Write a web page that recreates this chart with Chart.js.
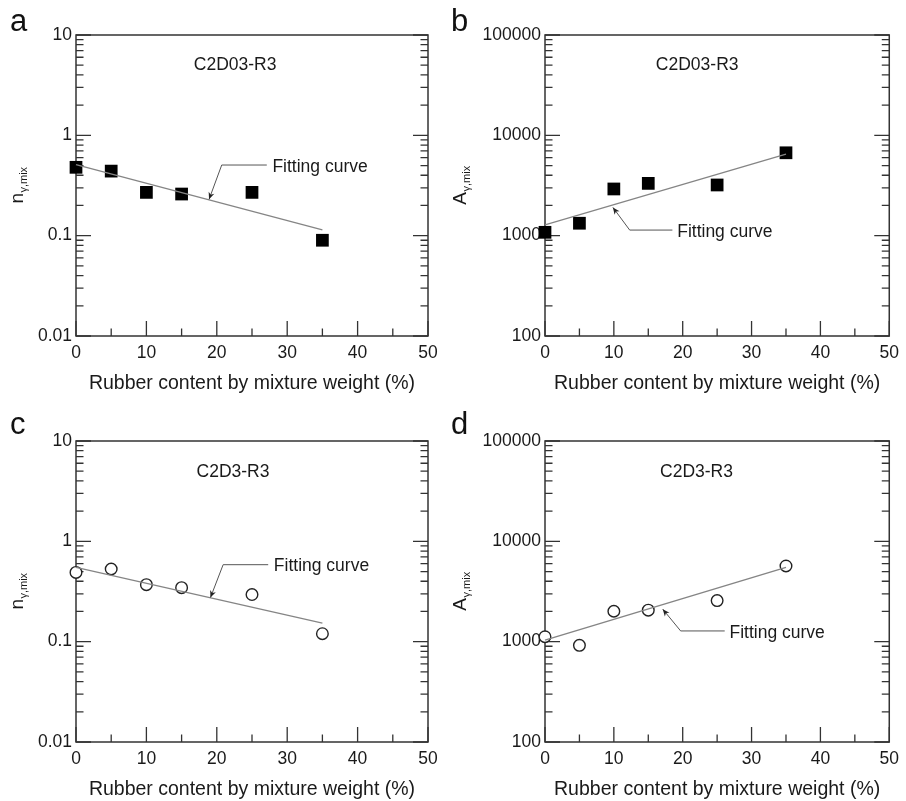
<!DOCTYPE html>
<html lang="en">
<head>
    <meta charset="UTF-8"/>
    <title>Rubber content vs n and A</title>
    <script src="https://cdn.jsdelivr.net/npm/chart.js"></script>
    <style>
        html, body {
            margin: 0;
            height: 100%;
            background: #fff;
            overflow: hidden;
        }

        .panel {
            position: absolute;
        }

        .letter {
            position: absolute;
            font: 31px "Liberation Sans", Arial, sans-serif;
            line-height: 31px;
            color: #111;
        }
    </style>
</head>
<body>
<div class="panel" style="left:0;top:0"><canvas id="chartA" width="453" height="395"></canvas></div>
<div class="panel" style="left:453px;top:0"><canvas id="chartB" width="453" height="395"></canvas></div>
<div class="panel" style="left:0;top:406px"><canvas id="chartC" width="453" height="395"></canvas></div>
<div class="panel" style="left:453px;top:406px"><canvas id="chartD" width="453" height="395"></canvas></div>
<div class="letter" style="left:10px;top:5px">a</div>
<div class="letter" style="left:451px;top:5px">b</div>
<div class="letter" style="left:10px;top:408px">c</div>
<div class="letter" style="left:451px;top:408px">d</div>

<script>
    const FONT = '"Liberation Sans", Arial, sans-serif';

    // rubber content by mixture weight (%)
    const rubber = [0, 5, 10, 15, 25, 35];

    // C2D03-R3
    const nMixC2D03 = [0.48, 0.44, 0.27, 0.26, 0.27, 0.09];
    const aMixC2D03 = [1080, 1330, 2920, 3320, 3200, 6700];
    // C2D3-R3
    const nMixC2D3 = [0.49, 0.53, 0.37, 0.345, 0.295, 0.12];
    const aMixC2D3 = [1120, 920, 2010, 2060, 2570, 5680];

    // fitting curves, end points at 0 % and 35 %
    const fitX = [0, 35];
    const nFitC2D03 = [0.51, 0.114];
    const aFitC2D03 = [1280, 6500];
    const nFitC2D3 = [0.55, 0.153];
    const aFitC2D3 = [1035, 5500];

    const xTicks = [0, 10, 20, 30, 40, 50];
    const nTickValues = [0.01, 0.1, 1, 10];
    const nTickLabels = ['0.01', '0.1', '1', '10'];
    const aTickValues = [100, 1000, 10000, 100000];
    const aTickLabels = ['100', '1000', '10000', '100000'];

    // "Fitting curve" leader: arrow tip, elbow, end of horizontal run, text anchor
    const leaderA = [[18.9, 0.23], [20.7, 0.506], [27.1, 0.506], [27.9, 0.48]];
    const leaderB = [[9.86, 1914], [12.3, 1137], [18.5, 1137], [19.2, 1080]];
    const leaderC = [[19.1, 0.275], [20.9, 0.585], [27.3, 0.585], [28.1, 0.565]];
    const leaderD = [[17.1, 2109], [19.7, 1279], [26.1, 1279], [26.8, 1220]];

    const panelDecor = {
        id: 'panelDecor',
        beforeDatasetsDraw(chart) {
            const {ctx, chartArea: ca, scales: {x, y}} = chart;
            ctx.save();
            ctx.strokeStyle = '#333';
            ctx.lineWidth = 1.5;
            ctx.strokeRect(ca.left, ca.top, ca.right - ca.left, ca.bottom - ca.top);

            // inward ticks: log decades on both sides, x along the bottom
            ctx.lineWidth = 1.3;
            ctx.beginPath();
            const e0 = Math.round(Math.log10(y.min));
            const e1 = Math.round(Math.log10(y.max));
            for (let e = e0; e <= e1; e++) {
                for (let k = 1; k <= 9; k++) {
                    if (e === e1 && k > 1) break;
                    const py = y.getPixelForValue(k * Math.pow(10, e));
                    const len = k === 1 ? 15 : 7.5;
                    ctx.moveTo(ca.left, py);
                    ctx.lineTo(ca.left + len, py);
                    ctx.moveTo(ca.right, py);
                    ctx.lineTo(ca.right - len, py);
                }
            }
            for (let v = 0; v <= 50; v += 5) {
                const px = x.getPixelForValue(v);
                ctx.moveTo(px, ca.bottom);
                ctx.lineTo(px, ca.bottom - (v % 10 === 0 ? 15 : 7.5));
            }
            ctx.stroke();
            ctx.restore();
        },
        afterDatasetsDraw(chart, args, opts) {
            const {ctx, chartArea: ca, scales: {x, y}} = chart;
            const P = p => [x.getPixelForValue(p[0]), y.getPixelForValue(p[1])];
            ctx.save();
            ctx.fillStyle = '#1a1a1a';

            // sample name
            ctx.font = '17.5px ' + FONT;
            ctx.textAlign = 'center';
            ctx.textBaseline = 'middle';
            const tag = P(opts.tagAt);
            ctx.fillText(opts.tag, tag[0], tag[1]);

            // leader line with arrow head
            const [tip, elbow, end, txt] = opts.leader.map(P);
            ctx.strokeStyle = '#555';
            ctx.lineWidth = 1;
            ctx.beginPath();
            ctx.moveTo(end[0], end[1]);
            ctx.lineTo(elbow[0], elbow[1]);
            ctx.lineTo(tip[0], tip[1]);
            ctx.stroke();
            const ang = Math.atan2(tip[1] - elbow[1], tip[0] - elbow[0]);
            ctx.fillStyle = '#222';
            ctx.beginPath();
            ctx.moveTo(tip[0], tip[1]);
            ctx.lineTo(tip[0] - 7 * Math.cos(ang) + 3 * Math.sin(ang), tip[1] - 7 * Math.sin(ang) - 3 * Math.cos(ang));
            ctx.lineTo(tip[0] - 5 * Math.cos(ang), tip[1] - 5 * Math.sin(ang));
            ctx.lineTo(tip[0] - 7 * Math.cos(ang) - 3 * Math.sin(ang), tip[1] - 7 * Math.sin(ang) + 3 * Math.cos(ang));
            ctx.closePath();
            ctx.fill();

            ctx.fillStyle = '#1a1a1a';
            ctx.textAlign = 'left';
            ctx.fillText('Fitting curve', txt[0], txt[1]);

            // y title with subscript, rotated
            ctx.translate(opts.titleX, (ca.top + ca.bottom) / 2);
            ctx.rotate(-Math.PI / 2);
            ctx.textBaseline = 'alphabetic';
            ctx.font = '19px ' + FONT;
            const wMain = ctx.measureText(opts.yMain).width;
            ctx.font = '11px ' + FONT;
            const wSub = ctx.measureText(opts.ySub).width;
            const start = -(wMain + wSub) / 2;
            ctx.font = '19px ' + FONT;
            ctx.fillText(opts.yMain, start, 0);
            ctx.font = '11px ' + FONT;
            ctx.fillText(opts.ySub, start + wMain + 0.5, 4);
            ctx.restore();
        }
    };

    function makePanel(id, cfg) {
        return new Chart(document.getElementById(id), {
            type: 'scatter',
            data: {
                datasets: [{
                    type: 'line',
                    data: fitX.map((v, i) => ({x: v, y: cfg.fit[i]})),
                    borderColor: '#858585',
                    borderWidth: 1.3,
                    pointRadius: 0,
                    clip: false
                }, {
                    data: rubber.map((v, i) => ({x: v, y: cfg.values[i]})),
                    pointStyle: cfg.filled ? 'rect' : 'circle',
                    pointRadius: cfg.filled ? 9 : 5.8,
                    backgroundColor: cfg.filled ? '#000' : '#fff',
                    borderColor: cfg.filled ? '#000' : '#222',
                    borderWidth: cfg.filled ? 0 : 1.4,
                    clip: false
                }]
            },
            options: {
                responsive: false,
                animation: false,
                layout: {padding: {left: 0, top: 35, right: cfg.rightPad, bottom: 0}},
                plugins: {
                    legend: {display: false},
                    tooltip: {enabled: false},
                    panelDecor: {
                        tag: cfg.tag,
                        tagAt: cfg.tagAt,
                        leader: cfg.leader,
                        yMain: cfg.yMain,
                        ySub: 'γ,mix',
                        titleX: cfg.titleX
                    }
                },
                scales: {
                    x: {
                        type: 'linear',
                        min: 0,
                        max: 50,
                        afterBuildTicks: s => { s.ticks = xTicks.map(v => ({value: v})); },
                        afterFit: s => { s.height = 59; },
                        grid: {display: false, drawTicks: false},
                        border: {display: false},
                        ticks: {padding: 7, color: '#1a1a1a', font: {size: 17.5, family: FONT}},
                        title: {
                            display: true,
                            text: 'Rubber content by mixture weight (%)',
                            color: '#1a1a1a',
                            font: {size: 19.5, family: FONT},
                            padding: {top: 0, bottom: 0}
                        }
                    },
                    y: {
                        type: 'logarithmic',
                        min: cfg.tickValues[0],
                        max: cfg.tickValues[cfg.tickValues.length - 1],
                        afterBuildTicks: s => { s.ticks = cfg.tickValues.map(v => ({value: v})); },
                        afterFit: s => { s.width = cfg.plotLeft; },
                        grid: {display: false, drawTicks: false},
                        border: {display: false},
                        ticks: {
                            padding: 4,
                            autoSkip: false,
                            color: '#1a1a1a',
                            font: {size: 17.5, family: FONT},
                            callback: (v, i) => cfg.tickLabels[i]
                        }
                    }
                }
            },
            plugins: [panelDecor]
        });
    }

    makePanel('chartA', {
        values: nMixC2D03, fit: nFitC2D03, filled: true, tag: 'C2D03-R3', tagAt: [22.6, 5],
        leader: leaderA, yMain: 'n', titleX: 23, plotLeft: 76, rightPad: 25,
        tickValues: nTickValues, tickLabels: nTickLabels
    });
    makePanel('chartB', {
        values: aMixC2D03, fit: aFitC2D03, filled: true, tag: 'C2D03-R3', tagAt: [22.1, 50000],
        leader: leaderB, yMain: 'A', titleX: 13, plotLeft: 92, rightPad: 10,
        tickValues: aTickValues, tickLabels: aTickLabels
    });
    makePanel('chartC', {
        values: nMixC2D3, fit: nFitC2D3, filled: false, tag: 'C2D3-R3', tagAt: [22.3, 4.9],
        leader: leaderC, yMain: 'n', titleX: 23, plotLeft: 76, rightPad: 25,
        tickValues: nTickValues, tickLabels: nTickLabels
    });
    makePanel('chartD', {
        values: aMixC2D3, fit: aFitC2D3, filled: false, tag: 'C2D3-R3', tagAt: [22, 49000],
        leader: leaderD, yMain: 'A', titleX: 13, plotLeft: 92, rightPad: 10,
        tickValues: aTickValues, tickLabels: aTickLabels
    });
</script>
</body>
</html>
